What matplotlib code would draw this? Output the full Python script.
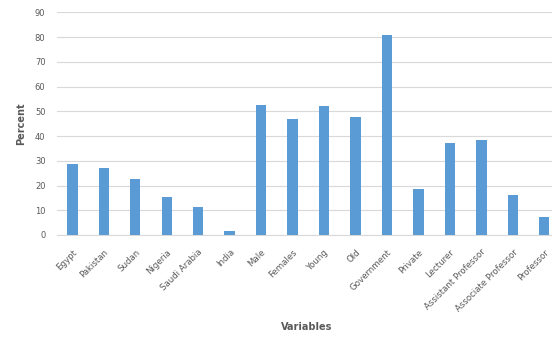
import matplotlib
matplotlib.use("Agg")
import matplotlib.pyplot as plt

categories = ["Egypt", "Pakistan", "Sudan", "Nigeria", "Saudi Arabia", "India",
              "Male", "Females", "Young", "Old", "Government", "Private",
              "Lecturer", "Assistant Professor", "Associate Professor", "Professor"]
percent = [28.5, 27, 22.8, 15.4, 11.2, 1.8, 52.7, 46.7, 52, 47.5, 80.8, 18.4,
           37.3, 38.2, 16.3, 7.1]
y_ticks = [0, 10, 20, 30, 40, 50, 60, 70, 80, 90]

bar_color = "#5B9BD5"
text_color = "#595959"
grid_color = "#D9D9D9"

fig = plt.figure(figsize=(5.52, 3.37), dpi=100)
ax = fig.add_axes([0.1025, 0.3027, 0.912, 0.6608])

x = range(len(categories))
ax.bar(x, percent, width=0.33, color=bar_color, zorder=3)

ax.set_ylim(0, 90)
ax.set_xlim(-0.5, len(categories) - 0.5)
ax.set_yticks(y_ticks)
ax.set_yticklabels([str(v) for v in y_ticks], fontsize=6, color=text_color)
ax.set_xticks(list(x))
ax.set_xticklabels(categories, rotation=45, ha="right", rotation_mode="anchor",
                   fontsize=6.2, color=text_color)
ax.tick_params(axis="both", length=0)
ax.tick_params(axis="y", pad=8)
ax.tick_params(axis="x", pad=9)

ax.grid(axis="y", color=grid_color, linewidth=0.8, zorder=0)
for side in ["top", "right", "left"]:
    ax.spines[side].set_visible(False)
ax.spines["bottom"].set_color(grid_color)
ax.spines["bottom"].set_linewidth(0.8)

ax.set_ylabel("Percent", fontsize=7, color=text_color, fontweight="bold", labelpad=6)
fig.text(307 / 552, 1 - 327 / 337, "Variables", fontsize=7, color=text_color,
         fontweight="bold", ha="center", va="center")

fig.savefig("out.png", dpi=100)
